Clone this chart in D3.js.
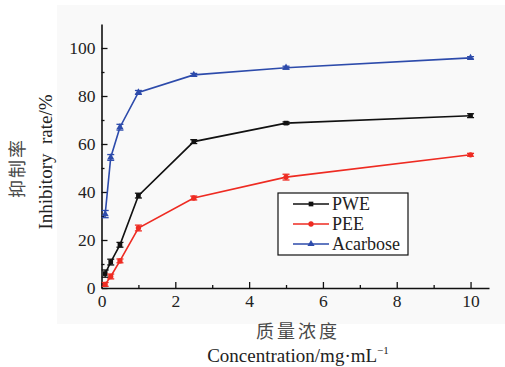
<!DOCTYPE html>
<html>
<head>
<meta charset="utf-8">
<script src="https://cdn.jsdelivr.net/npm/d3@7"></script>
<style>
  body { margin: 0; background: #fff; }
  svg text { font-family: "Liberation Serif", "Times New Roman", "DejaVu Serif", serif; fill: #222; }
  svg text.cjk { font-family: "Noto Sans CJK SC", sans-serif; font-weight: 400; fill: #4a4a4a; }
</style>
</head>
<body>
<svg id="chart"></svg>
<script>
// data
const conc = [0.1, 0.25, 0.5, 1, 2.5, 5, 10];
const pwe = [6, 10.8, 18, 38.5, 61, 68.7, 71.8];
const pweErr = [1.5, 1.2, 1.0, 1.0, 0.8, 0.5, 0.8];
const pee = [1.5, 4.8, 11.3, 25, 37.5, 46.2, 55.5];
const peeErr = [0.8, 1.0, 0.8, 1.2, 0.8, 1.2, 0.6];
const aca = [30.8, 54.4, 67, 81.5, 88.8, 91.8, 95.9];
const acaErr = [1.5, 1.2, 1.2, 0.8, 0.6, 0.6, 0.5];
const seriesNames = ["PWE", "PEE", "Acarbose"];
const xTicks = [0, 2, 4, 6, 8, 10];
const yTicks = [0, 20, 40, 60, 80, 100];

const width = 505, height = 367;
const svg = d3.select("#chart").attr("width", width).attr("height", height);
const serif = "'Liberation Serif', 'Times New Roman', serif";

// light panel behind the plot
svg.append("rect")
  .attr("x", 57).attr("y", 5)
  .attr("width", width - 57).attr("height", 319)
  .attr("fill", "#f9f9f9");

const x = d3.scaleLinear().domain([0, 10.5]).range([101.5, 489]);
const y = d3.scaleLinear().domain([0, 110]).range([288, 24]);

// axes, ticks pointing inward
svg.append("g")
  .attr("transform", `translate(0,${y(0)})`)
  .call(d3.axisBottom(x).tickValues(xTicks).tickSize(-6).tickPadding(7).tickSizeOuter(0));
svg.append("g")
  .attr("transform", `translate(0,${y(0)})`)
  .call(d3.axisBottom(x).tickValues(d3.range(1, 11, 2)).tickSize(-3).tickFormat("").tickSizeOuter(0))
  .select(".domain").remove();

svg.append("g")
  .attr("transform", `translate(${x(0)},0)`)
  .call(d3.axisLeft(y).tickValues(yTicks).tickSize(-6).tickPadding(6).tickSizeOuter(0));
svg.append("g")
  .attr("transform", `translate(${x(0)},0)`)
  .call(d3.axisLeft(y).tickValues(d3.range(10, 110, 20)).tickSize(-3).tickFormat("").tickSizeOuter(0))
  .select(".domain").remove();

svg.selectAll(".domain").attr("stroke", "#111").attr("stroke-width", 1.6);
svg.selectAll(".tick line").attr("stroke", "#111").attr("stroke-width", 1.3);
svg.selectAll(".tick text").attr("font-size", 17.5).style("font-family", serif);

// series
const series = [
  { name: seriesNames[0], vals: pwe, err: pweErr, color: "#111111", shape: d3.symbolSquare },
  { name: seriesNames[1], vals: pee, err: peeErr, color: "#ee2b22", shape: d3.symbolCircle },
  { name: seriesNames[2], vals: aca, err: acaErr, color: "#2d4bab", shape: d3.symbolTriangle }
];

const line = d3.line().x(d => x(d[0])).y(d => y(d[1]));

series.forEach(s => {
  const pts = conc.map((c, i) => [c, s.vals[i], s.err[i]]);
  const g = svg.append("g");
  g.append("path")
    .attr("d", line(pts))
    .attr("fill", "none")
    .attr("stroke", s.color)
    .attr("stroke-width", 1.6);

  // error bars
  const eb = g.selectAll(".eb").data(pts).join("g");
  eb.append("line")
    .attr("x1", d => x(d[0])).attr("x2", d => x(d[0]))
    .attr("y1", d => y(d[1] - d[2])).attr("y2", d => y(d[1] + d[2]))
    .attr("stroke", s.color).attr("stroke-width", 1.3);
  [-1, 1].forEach(k => {
    eb.append("line")
      .attr("x1", d => x(d[0]) - 3.5).attr("x2", d => x(d[0]) + 3.5)
      .attr("y1", d => y(d[1] + k * d[2])).attr("y2", d => y(d[1] + k * d[2]))
      .attr("stroke", s.color).attr("stroke-width", 1.3);
  });

  g.selectAll(".pt").data(pts).join("path")
    .attr("transform", d => `translate(${x(d[0])},${y(d[1])})`)
    .attr("d", d3.symbol(s.shape, 22))
    .attr("fill", s.color);
});

// legend
const lg = svg.append("g").attr("transform", "translate(278,193)");
lg.append("rect").attr("width", 130).attr("height", 62)
  .attr("fill", "#fff").attr("stroke", "#111").attr("stroke-width", 1.2);
series.forEach((s, i) => {
  const ly = 11 + i * 20;
  lg.append("line").attr("x1", 15).attr("x2", 51).attr("y1", ly).attr("y2", ly)
    .attr("stroke", s.color).attr("stroke-width", 1.4);
  lg.append("path").attr("transform", `translate(33,${ly})`)
    .attr("d", d3.symbol(s.shape, 22)).attr("fill", s.color);
  lg.append("text").attr("x", 54).attr("y", ly + 6)
    .attr("font-size", 18).style("font-family", serif).text(s.name);
});

// axis titles
svg.append("text").attr("class", "cjk")
  .attr("x", 298).attr("y", 338).attr("text-anchor", "middle")
  .attr("font-size", 18).attr("letter-spacing", 3)
  .text("质量浓度");
svg.append("text").attr("x", 298).attr("y", 362).attr("text-anchor", "middle")
  .attr("font-size", 19).style("font-family", serif)
  .html('Concentration/mg·mL<tspan dy="-8" font-size="11">−1</tspan>');

svg.append("text").attr("class", "cjk")
  .attr("transform", "translate(24,168) rotate(-90)")
  .attr("text-anchor", "middle").attr("font-size", 18).attr("letter-spacing", 2)
  .text("抑制率");
svg.append("text").attr("transform", "translate(52,162) rotate(-90)")
  .attr("text-anchor", "middle").attr("font-size", 19).style("font-family", serif)
  .attr("xml:space", "preserve")
  .text("Inhibitory  rate/%");
</script>
</body>
</html>
